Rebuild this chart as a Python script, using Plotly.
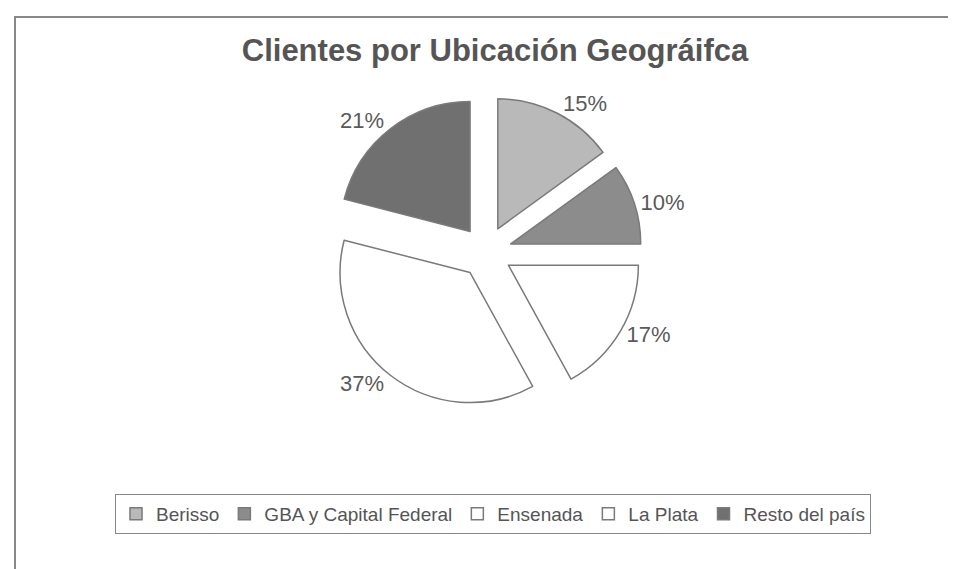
import plotly.graph_objects as go

categories = ["Berisso", "GBA y Capital Federal", "Ensenada", "La Plata", "Resto del país"]
values = [15, 10, 17, 37, 21]
colors = ["#b9b9b9", "#8c8c8c", "#ffffff", "#ffffff", "#707070"]

W, H = 956, 569

fig = go.Figure(go.Pie(
    labels=categories,
    values=values,
    sort=False,
    direction="clockwise",
    rotation=0,
    pull=[0.2] * len(values),
    marker=dict(colors=colors, line=dict(color="#7a7a7a", width=1.5)),
    textinfo="percent",
    texttemplate="%{percent:.0%}",
    textposition="outside",
    outsidetextfont=dict(size=22, color="#5a5a5a", family="Liberation Sans, Arial, sans-serif"),
    domain=dict(x=[322 / W, 634 / W], y=[1 - 400 / H, 1 - 88 / H]),
    hoverinfo="label+percent",
))

fig.update_layout(
    width=W, height=H,
    margin=dict(l=0, r=0, t=0, b=0),
    paper_bgcolor="white",
    plot_bgcolor="white",
    font=dict(family="Liberation Sans, Arial, sans-serif", color="#444"),
    title=dict(
        text="<b>Clientes por Ubicación Geográifca</b>",
        x=487 / W, xanchor="center",
        y=1 - 42 / H, yanchor="middle",
        font=dict(size=31, color="#555", family="Liberation Sans, Arial, sans-serif"),
    ),
    showlegend=True,
    legend=dict(
        orientation="h",
        x=485 / W, xanchor="center",
        y=1 - 506 / H, yanchor="middle",
        bordercolor="#888", borderwidth=1,
        font=dict(size=19, color="#555"),
        itemwidth=30,
        tracegroupgap=0,
    ),
    shapes=[dict(
        type="rect", xref="paper", yref="paper",
        x0=7 / W, x1=1.05, y0=-0.05, y1=1 - 9 / H,
        line=dict(color="#888", width=2),
    )],
)

fig.write_html("out.html")
